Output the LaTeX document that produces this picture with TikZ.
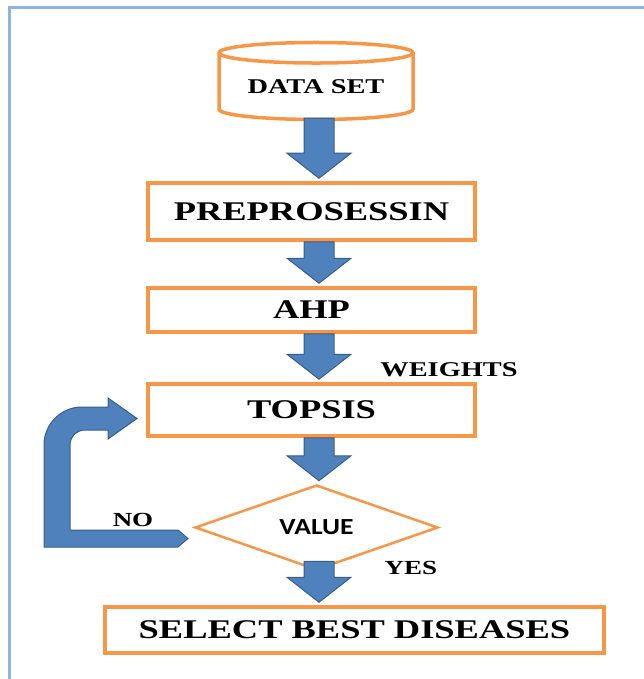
\documentclass[tikz,border=0pt]{standalone}
\usepackage{fontspec}
\usetikzlibrary{shapes.geometric, calc}
\newfontfamily\boxfont[FakeStretch=1.35]{Liberation Serif}
\newfontfamily\valfont[FakeStretch=1.2]{Carlito}
\definecolor{boxorange}{HTML}{F79646}
\definecolor{arrowblue}{HTML}{4F81BD}
\definecolor{arrowedge}{HTML}{385D8A}
\definecolor{frameblue}{HTML}{8DB4E2}

\tikzset{
  stagebox/.style={draw=boxorange, line width=3.5pt, minimum width=327pt, inner sep=0pt,
    font=\boxfont\bfseries\fontsize{27}{30}\selectfont},
  sidetext/.style={font=\boxfont\bfseries\fontsize{21}{24}\selectfont},
  blockfill/.style={fill=arrowblue, draw=arrowedge, line width=1pt}
}

% block arrow on the column x=319, from #1 down to #2
\newcommand{\blockarrow}[2]{%
  \filldraw[blockfill] let \p1=(#1), \p2=(#2) in
    (304pt,\y1) -- (334pt,\y1) -- (334pt,\y2+28pt) -- (351pt,\y2+28pt) --
    (319pt,\y2+3pt) -- (287pt,\y2+28pt) -- (304pt,\y2+28pt) -- cycle;}

\begin{document}
\begin{tikzpicture}[x=1pt,y=1pt]
\useasboundingbox (0,0) rectangle (644,-679);
\draw[frameblue, line width=3pt] (9,-700) -- (9,-8) -- (700,-8);

\node[cylinder, shape border rotate=90, draw=boxorange, line width=3.5pt,
  minimum width=194pt, minimum height=77pt, aspect=0.15, inner sep=0pt,
  font=\boxfont\bfseries\fontsize{21}{24}\selectfont] (data) at (316,-87) {DATA SET};
\node[stagebox, minimum height=57pt] (pre) at (311.5,-211.5) {PREPROSESSIN};
\node[stagebox, minimum height=44pt] (ahp) at (311.5,-310) {AHP};
\node[stagebox, minimum height=52pt] (topsis) at (311.5,-410) {TOPSIS};
\node[diamond, draw=boxorange, line width=2.5pt, minimum width=243pt, minimum height=85pt,
  aspect=2.86, inner sep=0pt, font=\valfont\bfseries\fontsize{23}{25}\selectfont]
  (value) at (316.5,-527.5) {VALUE};
\node[stagebox, minimum width=499pt, minimum height=46pt] (best) at (354.5,-630) {SELECT BEST DISEASES};

\node[sidetext] (weights) at (449,-370) {WEIGHTS};
\node[sidetext, font=\boxfont\bfseries\fontsize{20}{22}\selectfont] (no) at (133,-520) {NO};
\node[sidetext, font=\boxfont\bfseries\fontsize{20}{22}\selectfont] (yes) at (411,-568) {YES};

\blockarrow{$(data.south)+(0,3)$}{pre.north}
\blockarrow{pre.south}{ahp.north}
\blockarrow{ahp.south}{topsis.north}
\blockarrow{topsis.south}{value.north}
\blockarrow{$(value.south)+(0,10)$}{best.north}

% loop back from the decision to TOPSIS
\filldraw[blockfill] (44,-547) -- (44,-445) arc[start angle=180, end angle=90, radius=38pt]
  -- (108,-407) -- (108,-398) -- (137,-418.5) -- (108,-439) -- (108,-430) -- (85,-430)
  arc[start angle=90, end angle=180, radius=15pt] -- (70,-530) -- (178,-530)
  -- (188,-538.5) -- (178,-547) -- cycle;
\end{tikzpicture}
\end{document}
